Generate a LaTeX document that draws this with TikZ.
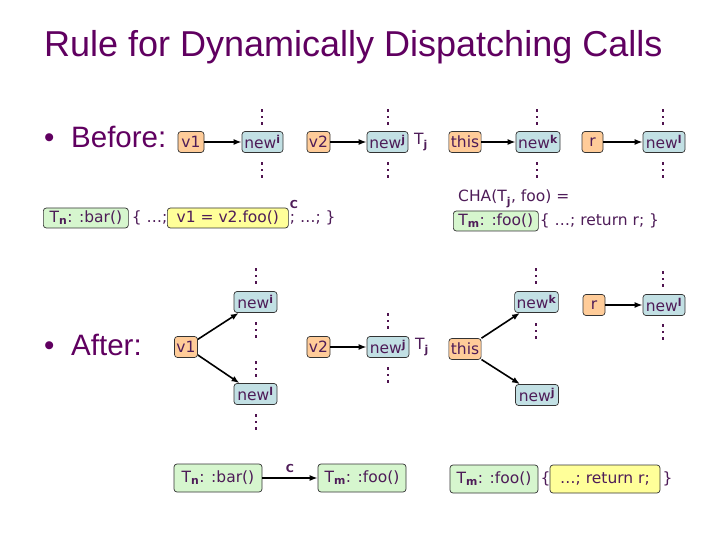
\documentclass[tikz,border=0pt]{standalone}
\usepackage{fontspec}
\setmainfont{DejaVu Sans}
\newfontfamily\titlefont{Liberation Sans}
\usetikzlibrary{arrows.meta}
\definecolor{ttl}{RGB}{96,0,96}
\definecolor{txt}{RGB}{78,28,88}
\definecolor{orfill}{RGB}{255,204,153}
\definecolor{blfill}{RGB}{194,224,228}
\definecolor{grfill}{RGB}{214,246,206}
\definecolor{yefill}{RGB}{255,255,153}
\definecolor{dotc}{RGB}{80,20,80}
\newcommand\sps[1]{\textsuperscript{\bfseries #1}}
\newcommand\sbs[1]{\textsubscript{\bfseries #1}}
\tikzset{
  box/.style={draw=black!80, rounded corners=3pt, minimum height=21pt, inner xsep=2pt, inner ysep=0pt,
    font=\fontsize{15.5}{15.5}\selectfont, text=txt, line width=0.7pt},
  var/.style={box, fill=orfill},
  obj/.style={box, fill=blfill},
  meth/.style={box, fill=grfill},
  yel/.style={box, fill=yefill},
  plain/.style={font=\fontsize{15.5}{15.5}\selectfont, text=txt, inner sep=1pt},
  lab/.style={font=\fontsize{11}{11}\selectfont\bfseries, text=txt, inner sep=1pt},
  arr/.style={-{Latex[length=8pt,width=6pt]}, line width=1.6pt, black},
  big/.style={font=\titlefont\fontsize{29.5}{29.5}\selectfont, text=ttl, inner sep=0pt},
  vdts/.pic={\foreach \yy in {-6.5,0,6.5} \fill[dotc] (-1.4,\yy-1.4) rectangle (1.4,\yy+1.4);}
}
\begin{document}
\begin{tikzpicture}[x=1pt,y=-1pt]
\useasboundingbox (0,0) rectangle (720,540);
% title
\node[big, font=\titlefont\fontsize{36}{36}\selectfont, anchor=base west] (title) at (44,57) {Rule for Dynamically Dispatching Calls};
% Before
\node[big, anchor=base west] (bul1) at (44,148) {•};
\node[big, anchor=base west] (before) at (71,148) {Before:};
\node[var, minimum width=26pt] (v1a) at (191,142) {v1};
\node[obj, minimum width=41pt] (newia) at (262.5,142) {new\sps{i}};
\node[var, minimum width=23pt] (v2a) at (318.5,142) {v2};
\node[obj, minimum width=41pt] (newja) at (387.5,142) {new\sps{j}};
\node[plain, anchor=west] (tja) at (413,142) {T\sbs{j}};
\node[var, minimum width=30pt] (thisa) at (465,142) {this};
\node[obj, minimum width=44pt] (newka) at (538,142) {new\sps{k}};
\node[var, minimum width=21pt] (ra) at (592.5,142) {r};
\node[obj, minimum width=42pt] (newla) at (664,142) {new\sps{l}};
\draw[arr] (v1a) -- (newia);
\draw[arr] (v2a) -- (newja);
\draw[arr] (thisa) -- (newka);
\draw[arr] (ra) -- (newla);
\pic at (262,117) {vdts}; \pic at (262,170) {vdts};
\pic at (388,117) {vdts}; \pic at (388,170) {vdts};
\pic at (537,117) {vdts}; \pic at (537,170) {vdts};
\pic at (663,117) {vdts}; \pic at (663,170) {vdts};
% code lines
\node[meth, minimum height=20pt, minimum width=85pt, anchor=west] (bar1) at (43,218) {T\sbs{n}: :bar()};
\node[plain, anchor=west] (c1) at ([xshift=2pt]bar1.east) {\{ …;};
\node[yel, minimum height=20pt, minimum width=121pt, anchor=west] (call1) at (167,218) {v1 = v2.foo()};
\node[lab, anchor=south west] (clab1) at ([yshift=-2pt]call1.north east) {C};
\node[plain, anchor=west] (c2) at (call1.east) {; …; \}};
\node[plain, anchor=base west] (cha) at (457,202) {CHA(T\sbs{j}, foo) =};
\node[meth, minimum height=20pt, minimum width=85pt, anchor=west] (foo1) at (453,221) {T\sbs{m}: :foo()};
\node[plain, anchor=west] (c3) at (foo1.east) {\{ …; return r; \}};
% After
\node[big, anchor=base west] (bul2) at (44,355) {•};
\node[big, anchor=base west] (after) at (71,355) {After:};
\node[var, minimum width=23pt] (v1b) at (186,347) {v1};
\node[obj, minimum width=43pt] (newib) at (255.5,302) {new\sps{i}};
\node[obj, minimum width=43pt] (newlb) at (255.5,394) {new\sps{l}};
\node[var, minimum width=23pt] (v2b) at (318.5,347) {v2};
\node[obj, minimum width=42pt] (newjb) at (388,347) {new\sps{j}};
\node[plain, anchor=west] (tjb) at (414,347) {T\sbs{j}};
\node[var, minimum width=30pt] (thisb) at (465,349) {this};
\node[obj, minimum width=43pt] (newkb) at (536.5,302) {new\sps{k}};
\node[obj, minimum width=43pt] (newj2b) at (537,395) {new\sps{j}};
\node[var, minimum width=22pt] (rb) at (594,305) {r};
\node[obj, minimum width=42pt] (newl2b) at (664,305) {new\sps{l}};
\draw[arr] (v1b) -- (newib);
\draw[arr] (v1b) -- (newlb);
\draw[arr] (v2b) -- (newjb);
\draw[arr] (thisb) -- (newkb);
\draw[arr] (thisb) -- (newj2b);
\draw[arr] (rb) -- (newl2b);
\pic at (256,276) {vdts}; \pic at (256,330) {vdts};
\pic at (256,369) {vdts}; \pic at (256,422) {vdts};
\pic at (388,321) {vdts}; \pic at (388,375) {vdts};
\pic at (536,276) {vdts}; \pic at (536,331) {vdts};
\pic at (663,279) {vdts}; \pic at (663,332) {vdts};
% bottom
\node[meth, minimum height=28pt, minimum width=88pt] (bar2) at (218,478) {T\sbs{n}: :bar()};
\node[meth, minimum height=28pt, minimum width=88pt] (foo2) at (362,478) {T\sbs{m}: :foo()};
\draw[arr] (bar2) -- node[lab, above=4pt] (clab2) {C} (foo2);
\node[meth, minimum height=28pt, minimum width=88pt] (foo3) at (494,479) {T\sbs{m}: :foo()};
\node[plain, anchor=west] (c4) at ([xshift=1pt]foo3.east) {\{};
\node[yel, minimum height=28pt, minimum width=110pt] (ret) at (605,479) {…; return r;};
\node[plain, anchor=west] (c5) at ([xshift=1pt]ret.east) {\}};
\end{tikzpicture}
\end{document}
